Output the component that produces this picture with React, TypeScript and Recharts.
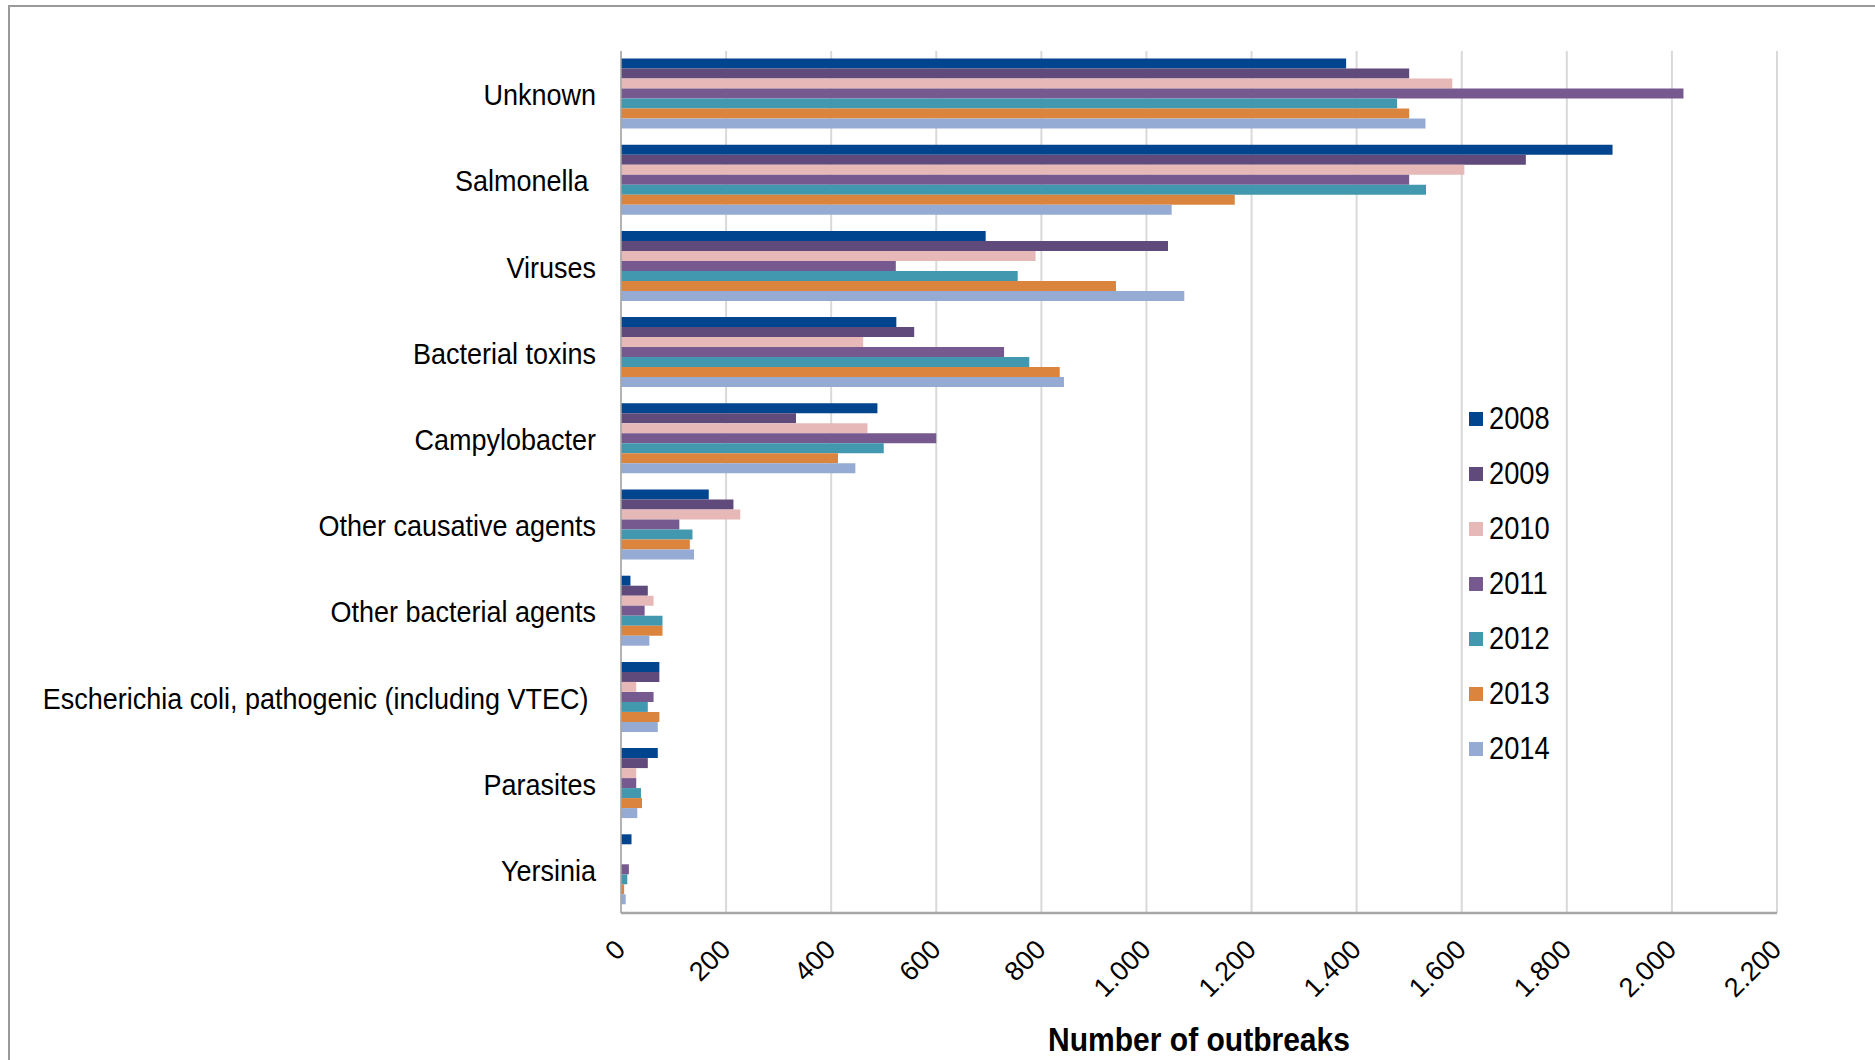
import { BarChart, Bar, XAxis, YAxis, CartesianGrid } from 'recharts';

const agents = [
  'Unknown',
  'Salmonella ',
  'Viruses',
  'Bacterial toxins',
  'Campylobacter',
  'Other causative agents',
  'Other bacterial agents',
  'Escherichia coli, pathogenic (including VTEC) ',
  'Parasites',
  'Yersinia',
];

const years = ['2008', '2009', '2010', '2011', '2012', '2013', '2014'];

const y2008 = [1380, 1887, 694, 524, 488, 167, 18, 73, 70, 20];
const y2009 = [1500, 1722, 1041, 558, 333, 214, 51, 73, 51, 0];
const y2010 = [1582, 1605, 789, 461, 469, 227, 62, 29, 29, 0];
const y2011 = [2022, 1500, 523, 729, 600, 111, 45, 62, 29, 15];
const y2012 = [1477, 1532, 755, 777, 500, 136, 79, 51, 38, 12];
const y2013 = [1500, 1168, 942, 835, 413, 131, 79, 73, 40, 6];
const y2014 = [1531, 1048, 1072, 843, 446, 139, 54, 70, 31, 9];

const xTicks = [0, 200, 400, 600, 800, 1000, 1200, 1400, 1600, 1800, 2000, 2200];

const colors = ['#02458f', '#604a7b', '#e6b9b8', '#765a8f', '#4198af', '#db843d', '#95abd3'];

const seriesValues = [y2008, y2009, y2010, y2011, y2012, y2013, y2014];

const rows = agents.map((agent, i) => {
  const row: Record<string, string | number> = { agent };
  years.forEach((yr, s) => {
    row[yr] = seriesValues[s][i];
  });
  return row;
});

const FONT = '"Liberation Sans", Arial, sans-serif';

// thousands with a dot, like the source (1.000)
const fmt = (v: number) => String(v).replace(/\B(?=(\d{3})+(?!\d))/g, '.');

function AgentTick({ x, y, payload }: any) {
  return (
    <text
      transform={`translate(${x - 25},${y}) scale(0.9,1)`}
      textAnchor="end"
      dy="0.37em"
      fontSize={30}
      fontFamily={FONT}
      fill="#000"
      style={{ whiteSpace: 'pre' }}
    >
      {payload.value}
    </text>
  );
}

function ValueTick({ x, y, payload }: any) {
  return (
    <g transform={`translate(${x + 6},${y + 30})`}>
      <text
        textAnchor="end"
        transform="rotate(-45)"
        fontSize={27}
        fontFamily={FONT}
        fill="#000"
      >
        {fmt(payload.value)}
      </text>
    </g>
  );
}

function AxisTitle({ viewBox }: any) {
  const { x, y, width, height } = viewBox;
  return (
    <text
      transform={`translate(${x + width / 2},${y + height - 9}) scale(0.91,1)`}
      textAnchor="middle"
      fontSize={33}
      fontWeight="bold"
      fontFamily={FONT}
      fill="#000"
    >
      Number of outbreaks
    </text>
  );
}

function YearLegend() {
  return (
    <div style={{ position: 'absolute', left: 1469, top: 391, width: 120, fontFamily: FONT }}>
      {years.map((yr, i) => (
        <div key={yr} style={{ height: 55, display: 'flex', alignItems: 'center' }}>
          <span style={{ width: 14, height: 14, background: colors[i], marginRight: 6 }} />
          <span
            style={{
              fontSize: 31,
              display: 'inline-block',
              transform: 'scale(0.88,1)',
              transformOrigin: 'left center',
              lineHeight: 1,
            }}
          >
            {yr}
          </span>
        </div>
      ))}
    </div>
  );
}

export default function App() {
  return (
    <div style={{ position: 'absolute', left: 0, top: 0, width: 1875, height: 1060, background: '#fff' }}>
      <div
        style={{
          position: 'absolute',
          left: 8,
          top: 5,
          right: 0,
          bottom: 0,
          borderTop: '2px solid #9a9a9a',
          borderLeft: '2px solid #9a9a9a',
        }}
      />
      <div style={{ position: 'absolute', left: 0, top: 0 }}>
        <BarChart
          width={1875}
          height={1060}
          data={rows}
          layout="vertical"
          margin={{ top: 51, right: 98, left: 0, bottom: 0 }}
          barCategoryGap="8.7%"
          barGap={0}
        >
          <CartesianGrid horizontal={false} stroke="#d9d9d9" strokeWidth={2} />
          <XAxis
            type="number"
            domain={[0, 2200]}
            ticks={xTicks}
            interval={0}
            height={147}
            tickLine={false}
            axisLine={{ stroke: '#a6a6a6', strokeWidth: 2.5 }}
            tick={<ValueTick />}
            label={<AxisTitle />}
          />
          <YAxis
            type="category"
            dataKey="agent"
            width={621}
            tickLine={false}
            tickSize={0}
            tickMargin={0}
            interval={0}
            axisLine={{ stroke: '#a6a6a6', strokeWidth: 1.5 }}
            tick={<AgentTick />}
          />
          {years.map((yr, i) => (
            <Bar key={yr} dataKey={yr} fill={colors[i]} isAnimationActive={false} />
          ))}
        </BarChart>
      </div>
      <YearLegend />
    </div>
  );
}
